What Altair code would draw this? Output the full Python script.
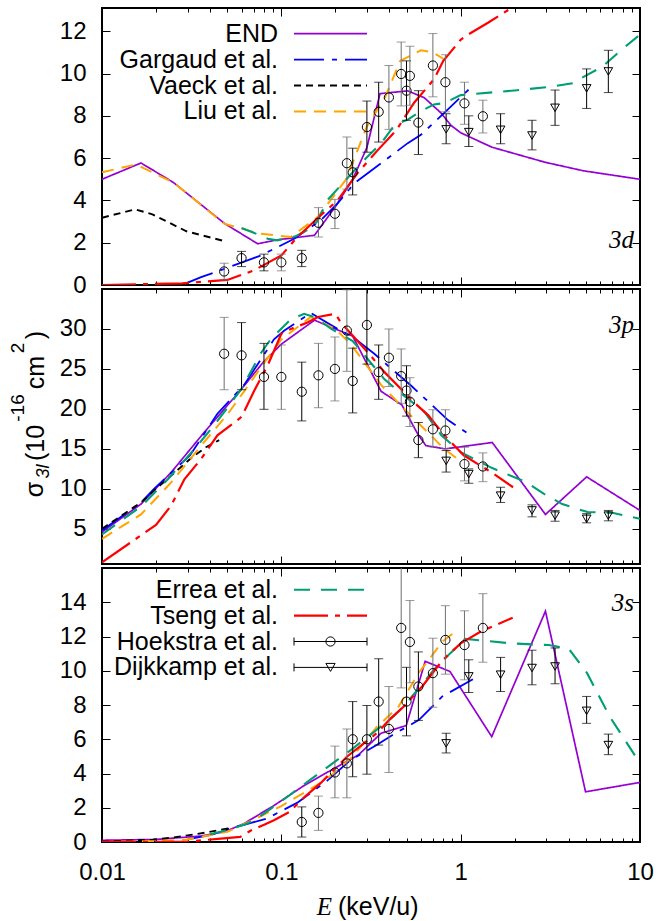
import altair as alt
import pandas as pd

FONT = "Liberation Sans"
SERIF = "Liberation Serif"

# ---------------- styles / categories ----------------
SERIES = ["END", "Gargaud et al.", "Vaeck et al.", "Liu et al.", "Errea et al.", "Tseng et al."]
SERIES_COLORS = ["#9400d3", "#0000ff", "#000000", "#ffa500", "#009e73", "#ff0000"]
SERIES_DASHES = [[1, 0], [30, 8, 5, 8], [7, 5], [12, 8], [16, 11], [34, 7, 5, 7]]
SERIES_WIDTHS = [1.7, 2.2, 2.2, 2.2, 2.2, 2.2]

X_MAJOR = [0.01, 0.1, 1, 10]
X_MINOR = [0.02, 0.03, 0.04, 0.05, 0.06, 0.07, 0.08, 0.09,
           0.2, 0.3, 0.4, 0.5, 0.6, 0.7, 0.8, 0.9,
           2, 3, 4, 5, 6, 7, 8, 9]
Y_TICKS_3D = [0, 2, 4, 6, 8, 10, 12]
Y_TICKS_3P = [5, 10, 15, 20, 25, 30]
Y_TICKS_3S = [0, 2, 4, 6, 8, 10, 12, 14]

# ---------------- 3d ----------------
E3d_END = [0.01, 0.0165, 0.025, 0.0484, 0.0738, 0.0955, 0.153, 0.2, 0.25, 0.3, 0.355, 0.507, 0.626, 0.776, 0.883, 1.0, 1.49, 2.97, 4.84, 10]
S3d_END = [5.0, 5.77, 4.85, 2.9, 1.95, 2.14, 2.35, 3.7, 5.0, 6.5, 9.05, 9.18, 8.86, 8.14, 7.55, 7.2, 6.52, 5.8, 5.4, 5.0]
E3d_GAR = [0.0289, 0.0357, 0.0481, 0.077, 0.118, 0.166, 0.206, 0.255, 0.36, 0.507, 0.60, 0.81, 1.19]
S3d_GAR = [0.05, 0.37, 0.76, 1.4, 2.19, 3.06, 3.86, 4.81, 5.76, 6.71, 7.1, 8.14, 9.49]
E3d_VAE = [0.01, 0.0153, 0.0191, 0.0296, 0.0484]
S3d_VAE = [3.18, 3.58, 3.34, 2.54, 2.07]
E3d_LIU = [0.01, 0.0155, 0.025, 0.048, 0.0754, 0.113, 0.16, 0.23, 0.3, 0.38, 0.46, 0.6, 0.7, 0.8]
S3d_LIU = [5.33, 5.7, 4.85, 2.9, 2.43, 2.27, 3.22, 5.0, 7.5, 8.9, 10.6, 11.1, 11.0, 10.7]
E3d_ERR = [0.06, 0.072, 0.084, 0.095, 0.12, 0.15, 0.16, 0.18, 0.278, 0.303, 0.36, 0.43, 0.507, 0.6, 0.71, 0.81, 1.0, 2.0, 3.2, 4.2, 5.08, 6.18, 7.9, 10]
S3d_ERR = [2.7, 2.43, 2.19, 2.11, 2.3, 2.75, 3.06, 4.0, 5.76, 6.08, 6.7, 7.59, 7.82, 8.22, 8.54, 8.6, 8.98, 9.2, 9.38, 9.54, 9.94, 10.33, 11.13, 11.84]
E3d_TSE = [0.01, 0.028, 0.05, 0.07, 0.1, 0.123, 0.166, 0.206, 0.266, 0.303, 0.34, 0.44, 0.55, 0.71, 0.8, 1.0, 1.1, 1.42, 2.0]
S3d_TSE = [0.0, 0.08, 0.24, 0.68, 1.4, 2.27, 3.3, 4.0, 5.29, 5.84, 6.32, 7.35, 8.62, 9.73, 10.6, 11.6, 11.84, 12.4, 13.2]

# ---------------- 3p ----------------
E3p_END = [0.01, 0.0165, 0.0244, 0.036, 0.06, 0.079, 0.1, 0.153, 0.25, 0.36, 0.47, 0.575, 0.64, 0.82, 1.5, 2.97, 5.04, 10]
S3p_END = [4.6, 8.1, 12.1, 16.7, 22.5, 25.8, 28.1, 31.1, 29.1, 22.2, 20.5, 16.9, 15.4, 15.0, 15.8, 6.8, 11.5, 7.3]
E3p_GAR = [0.01, 0.0165, 0.0195, 0.031, 0.044, 0.062, 0.077, 0.091, 0.104, 0.146, 0.206, 0.25, 0.33, 0.38, 0.53, 0.85, 1.17]
S3p_GAR = [4.8, 8.3, 10.0, 14.2, 19.4, 23.0, 26.2, 28.7, 29.8, 32.0, 30.0, 29.0, 26.9, 25.7, 22.9, 18.6, 16.5]
E3p_VAE = [0.01, 0.0165, 0.02, 0.032, 0.038, 0.045]
S3p_VAE = [5.0, 8.3, 10.0, 14.0, 15.2, 16.1]
E3p_LIU = [0.01, 0.0165, 0.0243, 0.036, 0.05, 0.062, 0.077, 0.1, 0.146, 0.2, 0.244, 0.36, 0.485, 0.68, 0.81, 0.96]
S3p_LIU = [3.75, 6.8, 10.8, 15.5, 19.3, 22.2, 25.2, 28.7, 31.5, 30.0, 28.1, 23.0, 20.0, 16.7, 15.0, 13.75]
E3p_ERR = [0.01, 0.0165, 0.0235, 0.034, 0.042, 0.06, 0.077, 0.0875, 0.113, 0.134, 0.153, 0.19, 0.25, 0.376, 0.445, 0.63, 0.78, 1.0, 1.5, 2.34, 2.9, 3.68, 5.1, 7.0, 10]
S3p_ERR = [4.3, 7.8, 11.3, 15.4, 17.9, 22.5, 27.0, 28.75, 31.2, 31.9, 31.5, 30.0, 28.5, 23.7, 22.3, 19.6, 16.7, 14.6, 12.6, 10.8, 9.4, 8.1, 7.1, 7.0, 6.25]
E3p_TSE = [0.01, 0.02, 0.0243, 0.0288, 0.0357, 0.044, 0.06, 0.0707, 0.0837, 0.1, 0.113, 0.14, 0.16, 0.2, 0.215, 0.303, 0.376, 0.465, 0.55, 0.66, 0.81, 1.04, 1.5, 1.96]
S3p_TSE = [0.8, 5.5, 7.9, 11.2, 13.75, 16.7, 19.0, 22.3, 25.4, 29.4, 30.0, 30.8, 31.5, 31.9, 30.8, 27.1, 24.6, 22.5, 20.8, 19.2, 16.7, 14.2, 12.0, 10.2]

# ---------------- 3s ----------------
E3s_END = [0.01, 0.02, 0.0357, 0.0484, 0.0618, 0.0916, 0.135, 0.221, 0.269, 0.36, 0.497, 0.634, 0.871, 1.49, 2.97, 4.97, 10]
S3s_END = [0.1, 0.15, 0.35, 0.6, 1.07, 2.15, 3.32, 4.59, 5.08, 6.35, 6.8, 10.55, 9.96, 6.15, 13.48, 2.93, 3.48]
E3s_GAR = [0.03, 0.04, 0.051, 0.0618, 0.083, 0.123, 0.181, 0.244, 0.34, 0.417, 0.586, 0.79, 1.17]
S3s_GAR = [0.15, 0.4, 0.78, 1.0, 1.37, 2.3, 3.6, 4.8, 5.66, 6.25, 7.13, 8.5, 9.5]
E3s_VAE = [0.01, 0.0192, 0.0243, 0.03, 0.038, 0.051]
S3s_VAE = [0.02, 0.13, 0.25, 0.39, 0.55, 0.8]
E3s_LIU = [0.01, 0.02, 0.03, 0.05, 0.07, 0.1, 0.157, 0.19, 0.25, 0.34, 0.45, 0.585, 0.66, 0.79, 0.94]
S3s_LIU = [0.0, 0.05, 0.15, 0.6, 1.3, 2.1, 3.3, 3.9, 5.0, 6.7, 7.9, 9.9, 10.6, 11.7, 12.3]
E3s_ERR = [0.04, 0.05, 0.0618, 0.071, 0.111, 0.135, 0.244, 0.296, 0.4, 0.48, 0.71, 0.87, 1.06, 1.28, 1.9, 3.1, 4.0, 5.07, 6.8, 10]
S3s_ERR = [0.45, 0.7, 1.0, 1.27, 2.73, 3.4, 5.37, 6.05, 7.13, 7.9, 10.06, 11.0, 11.86, 11.78, 11.6, 11.5, 11.3, 9.86, 7.3, 4.6]
E3s_TSE = [0.01, 0.03, 0.046, 0.059, 0.068, 0.079, 0.091, 0.111, 0.135, 0.165, 0.232, 0.34, 0.4, 0.48, 0.61, 0.79, 1.0, 1.3, 1.95]
S3s_TSE = [0.0, 0.02, 0.2, 0.3, 0.68, 0.98, 1.27, 1.76, 2.64, 3.42, 4.98, 6.35, 7.13, 7.9, 9.08, 10.6, 11.6, 12.3, 13.1]

# ---------------- experiments ----------------
HOEK_E = [0.048, 0.060, 0.080, 0.100, 0.130, 0.161, 0.199, 0.232, 0.250, 0.300,
          0.349, 0.398, 0.466, 0.499, 0.521, 0.581, 0.700, 0.822, 1.05, 1.33]
HOEK_SET = ["B", "A", "A", "B", "A", "B", "B", "B", "A", "A",
            "A", "B", "B", "A", "B", "A", "B", "B", "B", "B"]
H3d_S = [0.64, 1.27, 1.07, 1.07, 1.27, 2.94, 3.37, 5.76, 5.33, 7.47, 8.19, 8.87, 9.98, 9.19, 9.89, 7.68, 10.38, 9.59, 8.59, 7.98]
H3d_LO = [0.24, 0.87, 0.67, 0.67, 0.87, 2.27, 2.67, 4.53, 4.26, 6.28, 6.76, 7.36, 8.47, 7.79, 8.5, 6.17, 8.9, 8.19, 7.6, 7.19]
H3d_HI = [1.03, 1.59, 1.46, 1.46, 1.64, 3.66, 4.05, 7.0, 6.47, 8.7, 9.59, 10.38, 11.49, 10.6, 11.29, 9.19, 11.89, 10.89, 9.59, 8.74]
H3p_S = [26.9, 26.7, 24.0, 24.0, 22.15, 24.2, 25.0, 29.8, 23.5, 30.5, 24.6, 26.4, 24.1, 22.3, 20.9, 16.1, 17.45, 17.3, 13.1, 12.8]
H3p_LO = [22.4, 22.4, 19.95, 19.95, 18.5, 20.15, 21.0, 24.7, 19.5, 25.6, 21.2, 22.8, 20.7, 19.1, 17.8, 13.9, 15.25, 15.05, 11.0, 10.9]
H3p_HI = [31.45, 30.8, 28.2, 28.0, 25.85, 28.2, 29.0, 34.9, 27.6, 35.8, 28.0, 30.0, 27.5, 25.4, 23.9, 18.3, 19.9, 19.9, 15.2, 14.5]
H3s_FIRST = 4  # 3s data start at the 5th energy
H3s_S = [1.17, 1.7, 4.06, 4.59, 6.0, 6.0, 8.2, 6.6, 12.5, 8.2, 11.68, 9.08, 9.86, 11.8, 11.5, 12.5]
H3s_LO = [0.29, 0.68, 2.58, 2.58, 3.81, 3.96, 5.66, 4.06, 9.0, 6.2, 9.3, 7.1, 7.87, 9.8, 9.47, 10.5]
H3s_HI = [2.05, 2.68, 5.6, 6.6, 8.2, 7.97, 10.7, 9.08, 16.5, 10.2, 14.1, 11.1, 11.9, 13.8, 13.5, 14.5]

DIJK_E = [0.83, 1.11, 1.67, 2.5, 3.36, 5.04, 6.66]
D3d_S = [7.36, 7.23, 7.34, 7.07, 8.38, 9.3, 10.1]
D3d_LO = [6.68, 6.55, 6.68, 6.39, 7.55, 8.35, 9.1]
D3d_HI = [8.1, 8.0, 8.1, 7.79, 9.22, 10.22, 11.1]
D3p_S = [13.5, 11.85, 9.15, 7.3, 6.65, 6.25, 6.65]
D3p_LO = [12.1, 10.7, 8.3, 6.5, 5.95, 5.75, 6.0]
D3p_HI = [14.8, 12.5, 10.2, 8.0, 7.3, 6.9, 7.3]
D3s_S = [5.76, 9.67, 9.77, 10.16, 10.25, 7.66, 5.66]
D3s_LO = [5.2, 8.73, 8.79, 9.18, 9.24, 6.93, 5.1]
D3s_HI = [6.35, 10.64, 10.78, 11.2, 11.33, 8.5, 6.3]

# ---------------- layout constants ----------------
W = 538
H_TOP, H_MID, H_BOT = 277, 275, 274
LEG_TEXT_X = 176
LEG_LINE_X1, LEG_LINE_X2 = 192, 265
LEG_DY = 25.9

x_scale = alt.Scale(type="log", domain=[0.01, 10], nice=False)
color_scale = alt.Scale(domain=SERIES, range=SERIES_COLORS)
dash_scale = alt.Scale(domain=SERIES, range=SERIES_DASHES)
width_scale = alt.Scale(domain=SERIES, range=SERIES_WIDTHS)


def lines_df(items):
    rows = []
    for name, E, S in items:
        for e, s in zip(E, S):
            rows.append({"series": name, "E": e, "s": s})
    return pd.DataFrame(rows)


def make_axis(orient, values, size, labels, **kw):
    return alt.Axis(orient=orient, values=values, tickSize=size, offset=-size, labels=labels,
                    domain=False, grid=False, title=None, ticks=True, tickColor="black",
                    tickWidth=1, labelFont=FONT, labelFontSize=24, labelColor="black", **kw)


def txt(s, x, y, size, font=FONT, italic=False, angle=0, align="center", baseline="alphabetic"):
    return alt.Chart(pd.DataFrame({"t": [s]})).mark_text(
        font=font, fontSize=size, fontStyle="italic" if italic else "normal", angle=angle,
        align=align, baseline=baseline, color="black"
    ).encode(text="t:N", x=alt.value(x), y=alt.value(y))


def errbars(df, y_scale, color, shape, size):
    base = alt.Chart(df)
    X = alt.X("E:Q", scale=x_scale, axis=None)
    rule = base.mark_rule(clip=True, strokeWidth=1, color=color).encode(
        x=X, y=alt.Y("lo:Q", scale=y_scale, axis=None), y2="hi:Q")
    cap_lo = base.mark_tick(clip=True, orient="horizontal", size=9, thickness=1, color=color).encode(
        x=X, y=alt.Y("lo:Q", scale=y_scale, axis=None))
    cap_hi = base.mark_tick(clip=True, orient="horizontal", size=9, thickness=1, color=color).encode(
        x=X, y=alt.Y("hi:Q", scale=y_scale, axis=None))
    pts = base.mark_point(clip=True, shape=shape, filled=False, size=size, strokeWidth=1,
                          color="black", opacity=1).encode(
        x=X, y=alt.Y("s:Q", scale=y_scale, axis=None))
    return [rule, cap_lo, cap_hi, pts]


def panel(lines, hoek, dijk, ydom, yticks, height, label, label_y, show_x_labels, extra):
    y_scale = alt.Scale(domain=ydom, nice=False, zero=False)
    carrier = pd.DataFrame({"E": [0.01, 10], "s": ydom})

    def axis_layer(xaxis, yaxis):
        return alt.Chart(carrier).mark_point(opacity=0).encode(
            x=alt.X("E:Q", scale=x_scale, axis=xaxis),
            y=alt.Y("s:Q", scale=y_scale, axis=yaxis))

    ax1 = axis_layer(
        make_axis("bottom", X_MAJOR, 8, show_x_labels, labelPadding=18, format="~g",
                  labelFlush=False, labelOverlap=False),
        make_axis("left", yticks, 8, True, labelPadding=16, labelOverlap=False))
    ax2 = axis_layer(make_axis("bottom", X_MINOR, 4, False), None)
    ax3 = axis_layer(make_axis("top", X_MAJOR, 8, False), make_axis("right", yticks, 8, False))
    ax4 = axis_layer(make_axis("top", X_MINOR, 4, False), None)

    line_layer = alt.Chart(lines).mark_line(clip=True).encode(
        x=alt.X("E:Q", scale=x_scale, axis=None),
        y=alt.Y("s:Q", scale=y_scale, axis=None),
        color=alt.Color("series:N", scale=color_scale, legend=None),
        strokeDash=alt.StrokeDash("series:N", scale=dash_scale, legend=None),
        strokeWidth=alt.StrokeWidth("series:N", scale=width_scale, legend=None),
    )

    layers = [ax1, ax2, ax3, ax4, line_layer]
    layers += errbars(hoek[hoek.grp == "A"], y_scale, "#000000", "circle", 85)
    layers += errbars(hoek[hoek.grp == "B"], y_scale, "#6e6e6e", "circle", 85)
    layers += errbars(dijk, y_scale, "#000000", "triangle-down", 75)
    layers.append(txt(label, W - 6, label_y, 25, font=SERIF, italic=True, align="right"))
    layers += extra
    return alt.layer(*layers).properties(width=W, height=height).resolve_axis(
        x="independent", y="independent")


def exp_df(E, S, LO, HI, grp=None):
    d = pd.DataFrame({"E": E, "s": S, "lo": LO, "hi": HI})
    d["grp"] = grp if grp is not None else "A"
    return d


def line_legend(names, y0):
    df = pd.DataFrame({"series": names, "row": list(range(len(names)))})
    base = alt.Chart(df).transform_calculate(ly=f"{y0} + datum.row * {LEG_DY}")
    t = base.mark_text(align="right", baseline="middle", font=FONT, fontSize=25, color="black").encode(
        x=alt.value(LEG_TEXT_X), y=alt.Y("ly:Q", scale=None, axis=None), text="series:N")
    r = base.mark_rule().encode(
        x=alt.value(LEG_LINE_X1), x2=alt.value(LEG_LINE_X2),
        y=alt.Y("ly:Q", scale=None, axis=None),
        color=alt.Color("series:N", scale=color_scale, legend=None),
        strokeDash=alt.StrokeDash("series:N", scale=dash_scale, legend=None),
        strokeWidth=alt.StrokeWidth("series:N", scale=width_scale, legend=None))
    return [t, r]


def exp_legend(names, shapes, first_row, y0):
    df = pd.DataFrame({"name": names, "row": [first_row + i for i in range(len(names))]})
    base = alt.Chart(df).transform_calculate(
        ly=f"{y0} + datum.row * {LEG_DY}",
        ly1=f"{y0} + datum.row * {LEG_DY} - 4",
        ly2=f"{y0} + datum.row * {LEG_DY} + 4")
    Y = alt.Y("ly:Q", scale=None, axis=None)
    out = [
        base.mark_text(align="right", baseline="middle", font=FONT, fontSize=25, color="black").encode(
            x=alt.value(LEG_TEXT_X), y=Y, text="name:N"),
        base.mark_rule(color="black", strokeWidth=1).encode(
            x=alt.value(LEG_LINE_X1), x2=alt.value(LEG_LINE_X2), y=Y),
        base.mark_rule(color="black", strokeWidth=1).encode(
            x=alt.value(LEG_LINE_X1), y=alt.Y("ly1:Q", scale=None, axis=None), y2="ly2:Q"),
        base.mark_rule(color="black", strokeWidth=1).encode(
            x=alt.value(LEG_LINE_X2), y=alt.Y("ly1:Q", scale=None, axis=None), y2="ly2:Q"),
        base.mark_point(filled=False, size=85, strokeWidth=1, color="black", opacity=1).encode(
            x=alt.value((LEG_LINE_X1 + LEG_LINE_X2) / 2), y=Y,
            shape=alt.Shape("name:N", scale=alt.Scale(domain=names, range=shapes), legend=None)),
    ]
    return out


lines3d = lines_df([
    ("END", E3d_END, S3d_END), ("Gargaud et al.", E3d_GAR, S3d_GAR),
    ("Vaeck et al.", E3d_VAE, S3d_VAE), ("Liu et al.", E3d_LIU, S3d_LIU),
    ("Errea et al.", E3d_ERR, S3d_ERR), ("Tseng et al.", E3d_TSE, S3d_TSE)])
lines3p = lines_df([
    ("END", E3p_END, S3p_END), ("Gargaud et al.", E3p_GAR, S3p_GAR),
    ("Vaeck et al.", E3p_VAE, S3p_VAE), ("Liu et al.", E3p_LIU, S3p_LIU),
    ("Errea et al.", E3p_ERR, S3p_ERR), ("Tseng et al.", E3p_TSE, S3p_TSE)])
lines3s = lines_df([
    ("END", E3s_END, S3s_END), ("Gargaud et al.", E3s_GAR, S3s_GAR),
    ("Vaeck et al.", E3s_VAE, S3s_VAE), ("Liu et al.", E3s_LIU, S3s_LIU),
    ("Errea et al.", E3s_ERR, S3s_ERR), ("Tseng et al.", E3s_TSE, S3s_TSE)])

hoek3d = exp_df(HOEK_E, H3d_S, H3d_LO, H3d_HI, HOEK_SET)
hoek3p = exp_df(HOEK_E, H3p_S, H3p_LO, H3p_HI, HOEK_SET)
hoek3s = exp_df(HOEK_E[H3s_FIRST:], H3s_S, H3s_LO, H3s_HI, HOEK_SET[H3s_FIRST:])
dijk3d = exp_df(DIJK_E, D3d_S, D3d_LO, D3d_HI)
dijk3p = exp_df(DIJK_E, D3p_S, D3p_LO, D3p_HI)
dijk3s = exp_df(DIJK_E, D3s_S, D3s_LO, D3s_HI)

# y-axis title pieces (rotated), placed on the middle panel
ytitle = [
    txt("σ", -59, 200.5, 25, angle=270),
    txt("3l", -53, 182.5, 18, italic=True, angle=270),
    txt("(10", -58, 154, 25, angle=270),
    txt("-16", -78, 119, 19, angle=270),
    txt("cm", -58, 83.5, 25, angle=270),
    txt("2", -78, 59, 19, angle=270),
    txt(")", -58, 46, 25, angle=270),
]
xtitle = [
    txt("E", 230, 347, 25, font=SERIF, italic=True, align="right"),
    txt("(keV/u)", 236, 347, 25, align="left"),
]

top = panel(lines3d, hoek3d, dijk3d, [0, 13.1], Y_TICKS_3D, H_TOP, "3d", 240, False,
            line_legend(SERIES[:4], 25.7))
mid = panel(lines3p, hoek3p, dijk3p, [0.6, 35], Y_TICKS_3P, H_MID, "3p", 44, False, ytitle)
bot = panel(lines3s, hoek3s, dijk3s, [0, 16], Y_TICKS_3S, H_BOT, "3s", 43, True,
            line_legend(SERIES[4:], 21.7)
            + exp_legend(["Hoekstra et al.", "Dijkkamp et al."], ["circle", "triangle-down"], 2, 21.7)
            + xtitle)

chart = alt.vconcat(top, mid, bot, spacing=4, bounds="flush").properties(
    padding={"left": 8, "top": 4, "right": 0, "bottom": 0},
    autosize=alt.AutoSizeParams(type="pad"),
).configure_view(stroke="black", strokeWidth=2)

chart.save("out.html", embed_options={"renderer": "svg", "actions": False})
